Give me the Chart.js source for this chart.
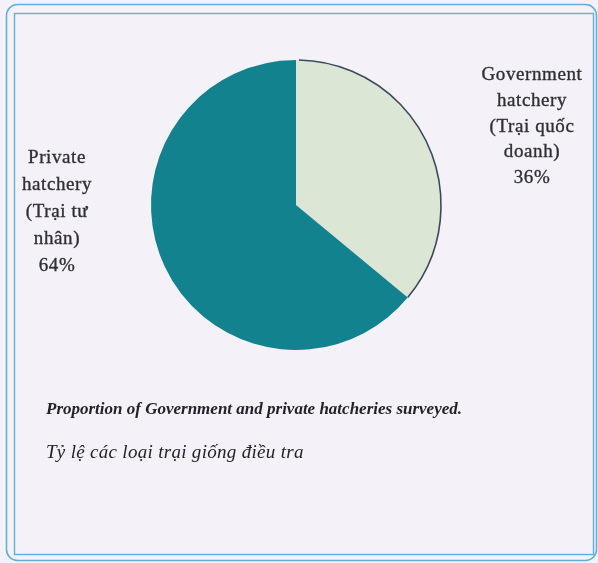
<!DOCTYPE html>
<html>
<head>
<meta charset="utf-8">
<script src="https://cdn.jsdelivr.net/npm/chart.js@4/dist/chart.umd.min.js"></script>
<style>
  html, body { margin: 0; padding: 0; background: #f5f1f8; }
  #wrap { position: relative; width: 598px; height: 563px; }
  canvas { display: block; }
</style>
</head>
<body>
<div id="wrap"><canvas id="pie" width="598" height="563"></canvas></div>
<script>
// Hatchery types surveyed
const categories = ['Government hatchery (Trại quốc doanh)', 'Private hatchery (Trại tư nhân)'];
const shares = [36, 64];
const sliceColors = ['#dbe6d4', '#13828f'];
// Side labels, one block per category (percentage appended from shares)
const labelLinesGov = ['Government', 'hatchery', '(Trại quốc', 'doanh)'];
const labelLinesPrivate = ['Private', 'hatchery', '(Trại tư', 'nhân)'];
const captionEn = 'Proportion of Government and private hatcheries surveyed.';
const captionVi = 'Tỷ lệ các loại trại giống điều tra';

// Double blue frame around the figure
const framePlugin = {
  id: 'frame',
  beforeDraw(chart) {
    const ctx = chart.ctx;
    ctx.save();
    ctx.fillStyle = '#f5f1f8';
    ctx.fillRect(0, 0, chart.width, chart.height);
    ctx.strokeStyle = '#5fb0dc';
    ctx.lineWidth = 1.6;
    ctx.beginPath();
    ctx.roundRect(6.5, 4.5, 590, 556, 11);
    ctx.stroke();
    ctx.lineWidth = 1.4;
    ctx.strokeRect(14.5, 13.5, 579, 541);
    ctx.restore();
  }
};

// Dark outline along the outer edge of the government slice, plus texts
const annotatePlugin = {
  id: 'annotate',
  afterDatasetsDraw(chart) {
    const ctx = chart.ctx;
    const arcs = chart.getDatasetMeta(0).data;
    const a = arcs[0];
    ctx.save();
    ctx.strokeStyle = '#3b4a5e';
    ctx.lineWidth = 1.6;
    ctx.beginPath();
    ctx.arc(a.x, a.y, a.outerRadius, a.startAngle + 0.02, a.endAngle);
    ctx.stroke();

    const cx = a.x, cy = a.y;
    ctx.fillStyle = '#2f2f37';
    ctx.strokeStyle = '#2f2f37';
    ctx.lineWidth = 0.35;
    ctx.textAlign = 'center';
    ctx.textBaseline = 'middle';
    ctx.font = '19px "Liberation Serif"';
    ctx.letterSpacing = '0.6px';
    const gov = labelLinesGov.concat([shares[0] + '%']);
    gov.forEach((t, i) => {
      ctx.fillText(t, cx + 236, cy - 130 + i * 25.8);
      ctx.strokeText(t, cx + 236, cy - 130 + i * 25.8);
    });
    const pri = labelLinesPrivate.concat([shares[1] + '%']);
    pri.forEach((t, i) => {
      ctx.fillText(t, cx - 239, cy - 47 + i * 27);
      ctx.strokeText(t, cx - 239, cy - 47 + i * 27);
    });

    ctx.textAlign = 'left';
    ctx.fillStyle = '#222228';
    ctx.letterSpacing = '0px';
    ctx.font = 'italic bold 17px "Liberation Serif"';
    ctx.fillText(captionEn, 46, 410);
    ctx.letterSpacing = '0.3px';
    ctx.font = 'italic 19px "Liberation Serif"';
    ctx.fillText(captionVi, 46, 453);
    ctx.restore();
  }
};

new Chart(document.getElementById('pie'), {
  type: 'pie',
  data: {
    labels: categories,
    datasets: [{
      data: shares,
      backgroundColor: sliceColors,
      borderWidth: 0
    }]
  },
  options: {
    responsive: false,
    animation: false,
    layout: { padding: { left: 151, right: 157, top: 60, bottom: 213 } },
    plugins: {
      legend: { display: false },
      tooltip: { enabled: false },
      title: { display: false }
    }
  },
  plugins: [framePlugin, annotatePlugin]
});
</script>
</body>
</html>
